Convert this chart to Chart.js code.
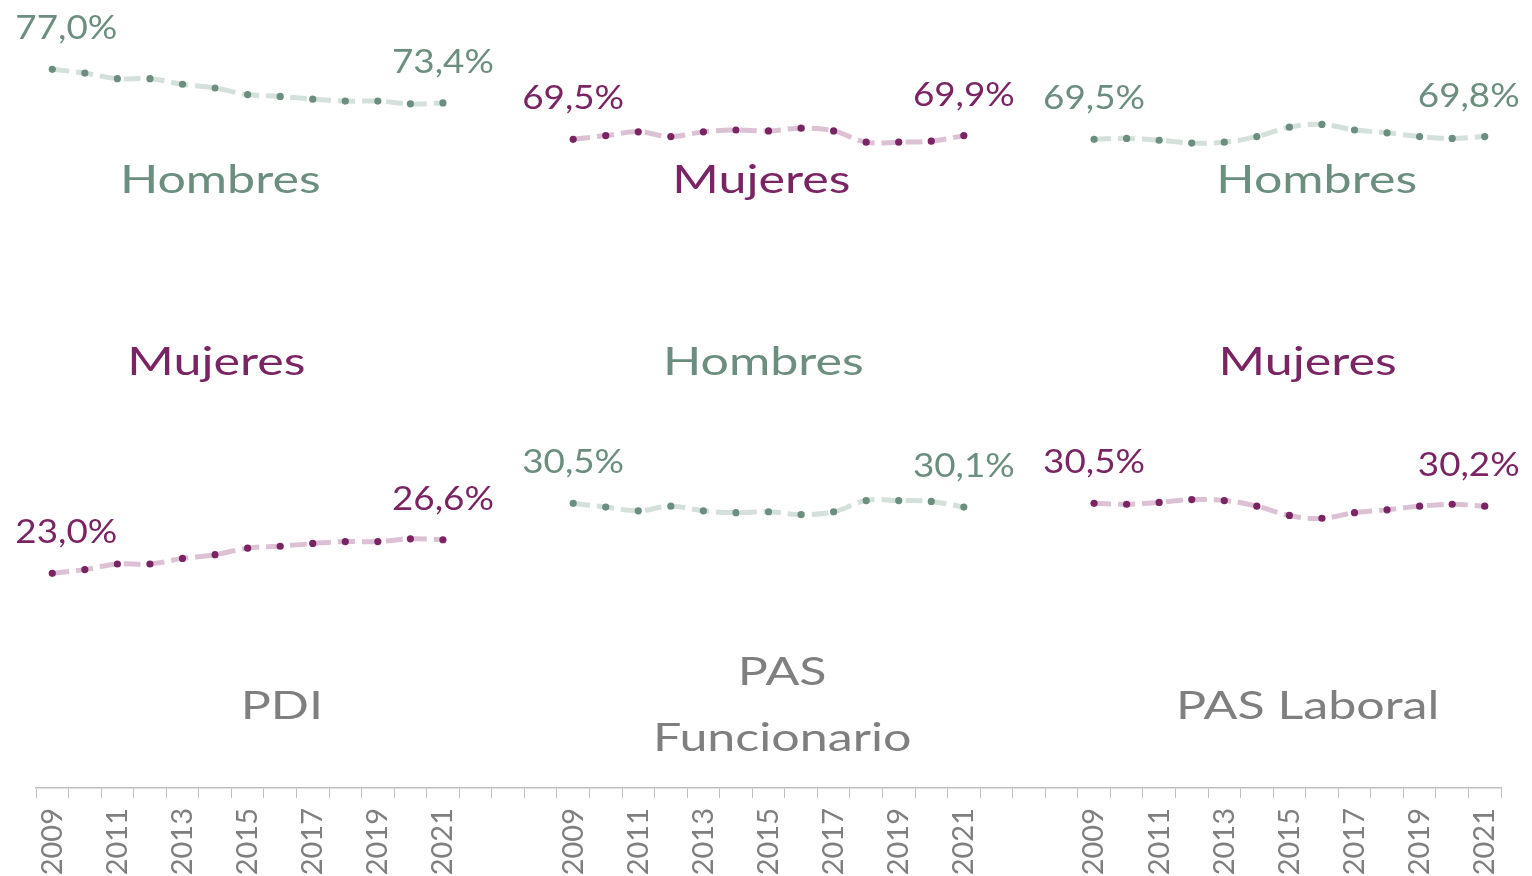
<!DOCTYPE html>
<html>
<head>
<meta charset="utf-8">
<script src="https://cdn.jsdelivr.net/npm/chart.js@4.4.1/dist/chart.umd.min.js"></script>
<style>
  html, body { margin: 0; padding: 0; background: #fff; }
  #wrap { width: 1532px; height: 876px; }
</style>
</head>
<body>
<div id="wrap"><canvas id="chart"></canvas></div>
<script>
const years = ['2009', '2010', '2011', '2012', '2013', '2014', '2015', '2016', '2017', '2018', '2019', '2020', '2021'];
const groups = ['PDI', 'PAS Funcionario', 'PAS Laboral'];
const gapSize = 3; // empty categories between groups

// % de hombres / mujeres por colectivo
const pdiHombres = [77.0, 76.6, 76.0, 76.0, 75.4, 75.0, 74.3, 74.1, 73.8, 73.6, 73.6, 73.3, 73.4];
const pdiMujeres = [23.0, 23.4, 24.0, 24.0, 24.6, 25.0, 25.7, 25.9, 26.2, 26.4, 26.4, 26.7, 26.6];
const funHombres = [30.5, 30.1, 29.7, 30.2, 29.7, 29.5, 29.6, 29.3, 29.6, 30.8, 30.8, 30.7, 30.1];
const funMujeres = [69.5, 69.9, 70.3, 69.8, 70.3, 70.5, 70.4, 70.7, 70.4, 69.2, 69.2, 69.3, 69.9];
const labHombres = [69.5, 69.6, 69.4, 69.1, 69.2, 69.8, 70.8, 71.1, 70.5, 70.2, 69.8, 69.6, 69.8];
const labMujeres = [30.5, 30.4, 30.6, 30.9, 30.8, 30.2, 29.2, 28.9, 29.5, 29.8, 30.2, 30.4, 30.2];

const HOM_DARK = '#6b8e7e';
const HOM_LIGHT = '#d4e0da';
const MUJ_DARK = '#7a2463';
const MUJ_LIGHT = '#dcc1d5';
const GRAY = '#7f7f7f';
const AXIS = '#bfbfbf';
const FONT = 'Lato, "Open Sans", sans-serif';

// join the three groups on one category axis, with blank gaps in between
function joinGroups(parts, filler) {
    let out = [];
    parts.forEach((p, i) => {
        out = out.concat(p);
        if (i < parts.length - 1) out = out.concat(Array(gapSize).fill(filler));
    });
    return out;
}

const labels = joinGroups([years, years, years], '');
const hombres = joinGroups([pdiHombres, funHombres, labHombres], null);
const mujeres = joinGroups([pdiMujeres, funMujeres, labMujeres], null);
const groupStarts = groups.map((g, i) => i * (years.length + gapSize));

function fmt(v) {
    return v.toFixed(1).replace('.', ',') + '%';
}

function drawText(ctx, text, x, y, size, color, sx) {
    ctx.save();
    ctx.font = size + 'px ' + FONT;
    ctx.fillStyle = color;
    ctx.textAlign = 'center';
    ctx.textBaseline = 'alphabetic';
    ctx.translate(x, y);
    ctx.scale(sx, 1);
    ctx.fillText(text, 0, 0);
    ctx.restore();
}

// big text labels, placed with the chart's own scales (x = category index, y = value)
const annotations = [
    { text: 'Hombres', xi: 5.16, v: 63.8, color: HOM_DARK },
    { text: 'Mujeres', xi: 5.04, v: 44.3, color: MUJ_DARK },
    { text: 'PDI', xi: 7.05, v: 7.4, color: GRAY },
    { text: 'Mujeres', xi: 21.78, v: 63.8, color: MUJ_DARK },
    { text: 'Hombres', xi: 21.84, v: 44.3, color: HOM_DARK },
    { text: 'PAS', xi: 22.42, v: 11.0, color: GRAY },
    { text: 'Funcionario', xi: 22.42, v: 4.0, color: GRAY },
    { text: 'Hombres', xi: 38.84, v: 63.8, color: HOM_DARK },
    { text: 'Mujeres', xi: 38.56, v: 44.3, color: MUJ_DARK },
    { text: 'PAS Laboral', xi: 38.56, v: 7.4, color: GRAY }
];

const textPlugin = {
    id: 'textPlugin',
    afterDatasetsDraw(chart) {
        const ctx = chart.ctx;
        const xs = chart.scales.x, ys = chart.scales.y;
        const lastIndex = labels.length - 1;
        chart.data.datasets.forEach((ds, di) => {
            const meta = chart.getDatasetMeta(di);
            groupStarts.forEach(start => {
                [start, start + years.length - 1].forEach(i => {
                    const p = meta.data[i];
                    let px = p.x;
                    // labels at the outer ends are pushed in from the edge
                    if (i === 0) px += 14;
                    if (i === lastIndex) px -= 16;
                    drawText(ctx, fmt(ds.data[i]), px, p.y - 30, 32, ds.pointBackgroundColor, 1.15);
                });
            });
        });
        annotations.forEach(a => {
            drawText(ctx, a.text, xs.getPixelForValue(a.xi), ys.getPixelForValue(a.v), 38, a.color, 1.32);
        });
    }
};

const lineStyle = {
    borderWidth: 5,
    borderDash: [17, 7],
    pointRadius: 3.6,
    pointBorderWidth: 0,
    pointHoverRadius: 3.6,
    tension: 0.4,
    spanGaps: false
};

const ctx = document.getElementById('chart').getContext('2d');
const chart = new Chart(ctx, {
    type: 'line',
    data: {
        labels: labels,
        datasets: [
            Object.assign({ label: 'Hombres', data: hombres, borderColor: HOM_LIGHT, pointBackgroundColor: HOM_DARK }, lineStyle),
            Object.assign({ label: 'Mujeres', data: mujeres, borderColor: MUJ_LIGHT, pointBackgroundColor: MUJ_DARK }, lineStyle)
        ]
    },
    options: {
        responsive: true,
        maintainAspectRatio: false,
        animation: false,
        layout: { padding: { left: 36, right: 31, top: 4, bottom: 0 } },
        plugins: {
            legend: { display: false },
            tooltip: { enabled: false }
        },
        scales: {
            x: {
                offset: true,
                afterFit: function (scale) { scale.height = 88; },
                grid: { display: true, drawOnChartArea: false, drawTicks: true, tickLength: 10, color: AXIS, offset: true },
                border: { display: true, color: AXIS, width: 1.5 },
                ticks: {
                    autoSkip: false,
                    minRotation: 90,
                    maxRotation: 90,
                    padding: 10,
                    color: GRAY,
                    font: { family: FONT, size: 29 },
                    callback: function (value) {
                        const l = this.getLabelForValue(value);
                        return (l && Number(l) % 2 === 1) ? l : '';
                    }
                }
            },
            y: { display: false, min: 0, max: 84 }
        }
    },
    plugins: [textPlugin]
});
</script>
</body>
</html>
